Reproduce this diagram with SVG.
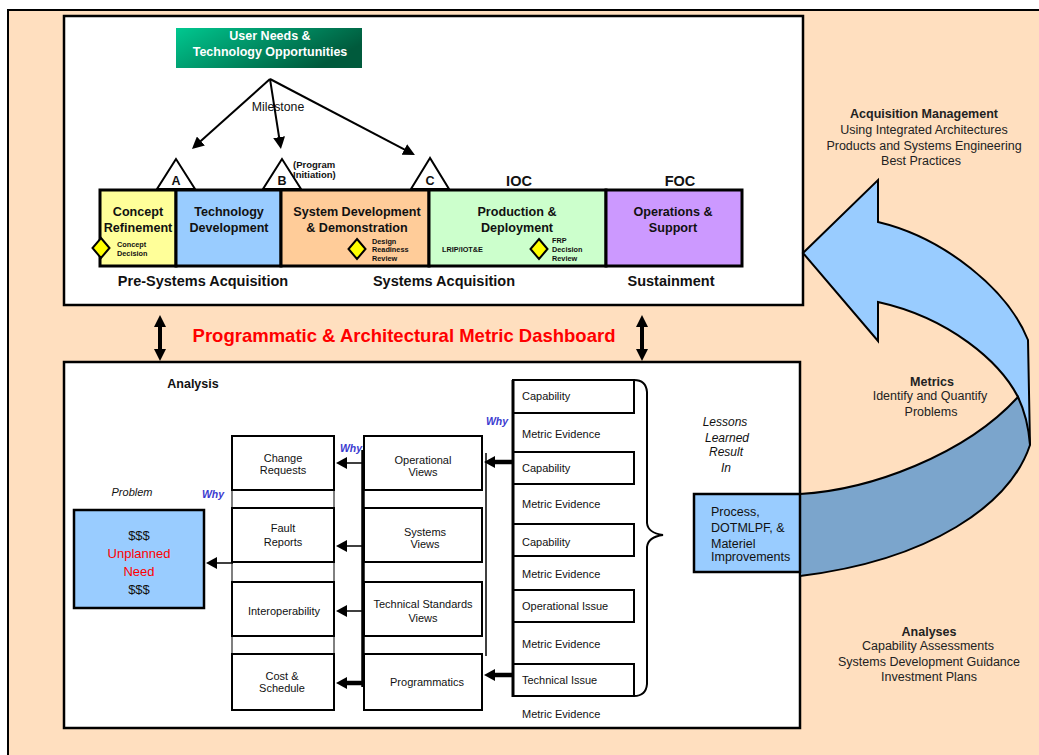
<svg xmlns="http://www.w3.org/2000/svg" width="1039" height="755" viewBox="0 0 1039 755">
<defs>
<linearGradient id="gUN" x1="0" y1="0" x2="1" y2="0.4">
<stop offset="0" stop-color="#00C890"/><stop offset="1" stop-color="#005A3C"/>
</linearGradient>
<marker id="ah" markerUnits="userSpaceOnUse" markerWidth="14" markerHeight="12" refX="2" refY="6" orient="auto"><path d="M0,0 L12,6 L0,12 Z" fill="#000"/></marker>
<marker id="ahs" markerUnits="userSpaceOnUse" markerWidth="12" markerHeight="12" refX="2" refY="6" orient="auto"><path d="M0,0 L11,6 L0,12 Z" fill="#000"/></marker>
<marker id="dbl" markerUnits="userSpaceOnUse" markerWidth="12" markerHeight="12" refX="2" refY="6" orient="auto-start-reverse"><path d="M0,0 L12,6 L0,12 Z" fill="#000"/></marker>
</defs>
<style>
text{font-family:"Liberation Sans",Arial,Helvetica,sans-serif;fill:#111}
.b{font-weight:bold}
.i{font-style:italic}
.c{text-anchor:middle}
.box{fill:#fff;stroke:#000;stroke-width:2}
.ph{stroke:#000;stroke-width:3}
.ph12{font-size:12.6px;font-weight:bold}
.acq{font-size:14.5px;font-weight:bold}
.sm{font-size:7.3px;font-weight:bold}
.dia{fill:#FFFF00;stroke:#000;stroke-width:2}
.tri{fill:#fff;stroke:#000;stroke-width:2}
.n11{font-size:11px}
.why{font-size:10.5px;font-weight:bold;font-style:italic;fill:#3B3BD0}
.rt{font-size:12.5px;fill:#222}
.ln{stroke:#000;fill:none}
</style>
<rect width="1039" height="755" fill="#fff"/>
<rect x="8" y="10" width="1060" height="780" fill="#FFDFBF" stroke="#000" stroke-width="2"/>

<g id="top-panel">
<rect x="64" y="16" width="739" height="289" fill="#fff" stroke="#000" stroke-width="2.5"/>
</g>
<g id="bottom-panel">
<rect x="64" y="362" width="736" height="366" fill="#fff" stroke="#000" stroke-width="2.5"/>
</g>

<g id="user-needs">
<rect x="176" y="28" width="186" height="40" fill="url(#gUN)"/>
<text x="270" y="40" class="c b" font-size="12.5" style="fill:#fff">User Needs &amp;</text>
<text x="270" y="55.5" class="c b" font-size="12.5" style="fill:#fff">Technology Opportunities</text>
</g>
<text x="278" y="111" class="c" font-size="12.3">Milestone</text>

<g id="milestone-A">
<path class="tri" d="M176,159 L157,189 L195,189 Z"/>
<text x="176" y="185" class="c b" font-size="12.5">A</text>
</g>
<g id="milestone-B">
<path class="tri" d="M282,159 L263,189 L301,189 Z"/>
<text x="282" y="185" class="c b" font-size="12.5">B</text>
<text x="293" y="168" class="b" font-size="9.5">(Program</text>
<text x="293" y="178" class="b" font-size="9.5">Initiation)</text>
</g>
<g id="milestone-C">
<path class="tri" d="M430,158 L411,189 L449,189 Z"/>
<text x="430" y="185" class="c b" font-size="12.5">C</text>
</g>

<g id="phase-concept">
<rect x="100" y="190" width="76" height="76" class="ph" fill="#FFFF99"/>
<text x="138" y="216" class="c ph12">Concept</text>
<text x="138" y="232" class="c ph12">Refinement</text>
<path class="dia" d="M101,238 L109.5,248 L101,258 L92.5,248 Z"/>
<text x="117" y="247" class="sm">Concept</text>
<text x="117" y="256" class="sm">Decision</text>
</g>
<g id="phase-tech">
<rect x="176" y="190" width="105" height="76" class="ph" fill="#99CCFF"/>
<text x="229" y="216" class="c ph12">Technology</text>
<text x="229" y="232" class="c ph12">Development</text>
</g>
<g id="phase-sdd">
<rect x="281" y="190" width="148" height="76" class="ph" fill="#FFCC99"/>
<text x="357" y="216" class="c ph12">System Development</text>
<text x="357" y="232" class="c ph12">&amp; Demonstration</text>
<path class="dia" d="M357,239 L365.5,249 L357,259 L348.5,249 Z"/>
<text x="372" y="244" class="sm">Design</text>
<text x="372" y="252" class="sm">Readiness</text>
<text x="372" y="261" class="sm">Review</text>
</g>
<g id="phase-pd">
<rect x="429" y="190" width="177" height="76" class="ph" fill="#CCFFCC"/>
<text x="517" y="216" class="c ph12">Production &amp;</text>
<text x="517" y="232" class="c ph12">Deployment</text>
<text x="442" y="252" class="sm">LRIP/IOT&amp;E</text>
<path class="dia" d="M539,239 L547.5,249 L539,259 L530.5,249 Z"/>
<text x="552" y="243" class="sm">FRP</text>
<text x="552" y="252" class="sm">Decision</text>
<text x="552" y="261" class="sm">Review</text>
</g>
<g id="phase-os">
<rect x="606" y="190" width="136" height="76" class="ph" fill="#CC99FF"/>
<text x="673" y="216" class="c ph12">Operations &amp;</text>
<text x="673" y="232" class="c ph12">Support</text>
</g>
<text x="519" y="186" class="c b" font-size="14.5">IOC</text>
<text x="680" y="186" class="c b" font-size="14.5">FOC</text>
<text x="203" y="286" class="c acq">Pre-Systems Acquisition</text>
<text x="444" y="286" class="c acq">Systems Acquisition</text>
<text x="671" y="286" class="c acq">Sustainment</text>

<text x="404" y="342" class="c b" font-size="18.5" style="fill:#FF0000">Programmatic &amp; Architectural Metric Dashboard</text>

<text x="193" y="388" class="c b" font-size="12.5">Analysis</text>

<g id="problem">
<text x="132" y="496" class="c i" font-size="11">Problem</text>
<rect x="74" y="510" width="130" height="98" fill="#99CCFF" stroke="#000" stroke-width="2.5"/>
<text x="139" y="540" class="c" font-size="13">$$$</text>
<text x="139" y="558" class="c" font-size="13" style="fill:#FF0000">Unplanned</text>
<text x="139" y="576" class="c" font-size="13" style="fill:#FF0000">Need</text>
<text x="139" y="594" class="c" font-size="13">$$$</text>
</g>

<g id="left-column">
<rect x="232" y="436" width="102" height="274" fill="none" stroke="#000" stroke-width="1"/>
<rect x="232" y="436" width="102" height="54" class="box"/>
<text x="283" y="462" class="c n11">Change</text>
<text x="283" y="474" class="c n11">Requests</text>
<rect x="232" y="508" width="102" height="54" class="box"/>
<text x="283" y="532" class="c n11">Fault</text>
<text x="283" y="546" class="c n11">Reports</text>
<rect x="232" y="582" width="102" height="54" class="box"/>
<text x="284" y="615" class="c n11">Interoperability</text>
<rect x="232" y="654" width="102" height="56" class="box"/>
<text x="282" y="680" class="c n11">Cost &amp;</text>
<text x="282" y="692" class="c n11">Schedule</text>
</g>

<g id="middle-column">
<rect x="364" y="436" width="118" height="54" class="box"/>
<text x="423" y="464" class="c n11">Operational</text>
<text x="423" y="476" class="c n11">Views</text>
<rect x="364" y="508" width="118" height="54" class="box"/>
<text x="425" y="536" class="c n11">Systems</text>
<text x="425" y="548" class="c n11">Views</text>
<rect x="364" y="582" width="118" height="54" class="box"/>
<text x="423" y="608" class="c n11">Technical Standards</text>
<text x="423" y="622" class="c n11">Views</text>
<rect x="364" y="654" width="118" height="56" class="box"/>
<text x="427" y="686" class="c n11">Programmatics</text>
</g>

<g id="evidence-column">
<rect x="513" y="380" width="121" height="33" class="box"/>
<text x="522" y="400" class="n11">Capability</text>
<text x="522" y="438" class="n11">Metric Evidence</text>
<rect x="513" y="452" width="121" height="32" class="box"/>
<text x="522" y="472" class="n11">Capability</text>
<text x="522" y="508" class="n11">Metric Evidence</text>
<rect x="513" y="524" width="121" height="32" class="box"/>
<text x="522" y="546" class="n11">Capability</text>
<text x="522" y="578" class="n11">Metric Evidence</text>
<rect x="513" y="590" width="121" height="32" class="box"/>
<text x="522" y="610" class="n11">Operational Issue</text>
<text x="522" y="648" class="n11">Metric Evidence</text>
<rect x="513" y="664" width="121" height="32" class="box"/>
<text x="522" y="684" class="n11">Technical Issue</text>
<text x="522" y="718" class="n11">Metric Evidence</text>
<path class="ln" stroke-width="2" d="M634,380 Q646,380 647,392 L647,523 Q648,533 663,535 Q648,537 647,547 L647,684 Q646,696 634,696"/>
</g>

<g id="lessons">
<text x="725" y="426" class="c i" font-size="12">Lessons</text>
<text x="727" y="442" class="c i" font-size="12">Learned</text>
<text x="726" y="456" class="c i" font-size="12">Result</text>
<text x="726" y="472" class="c i" font-size="12">In</text>
</g>

<g id="cycle-arrow">
<path d="M803,253 L878,180 L878,222 C945,238 1008,290 1028,340 L1030,445 L1018,397 C1000,362 950,318 878,302 L878,341 Z" fill="#99CCFF" stroke="#000" stroke-width="2" stroke-linejoin="miter"/>
<path d="M800,494 C870,490 965,455 1018,397 Q1028,418 1030,445 C1010,505 930,560 800,576 Z" fill="#7BA5CC" stroke="#000" stroke-width="2"/>
</g>

<g id="process">
<rect x="694" y="494" width="106" height="78" fill="#99CCFF" stroke="#000" stroke-width="2.5"/>
<text x="711" y="516" font-size="12.5">Process,</text>
<text x="711" y="532" font-size="12.5">DOTMLPF, &amp;</text>
<text x="711" y="548" font-size="12.5">Materiel</text>
<text x="711" y="561" font-size="12.5">Improvements</text>
</g>

<g id="side-notes">
<text x="924" y="118" class="c b rt">Acquisition Management</text>
<text x="924" y="134" class="c rt">Using Integrated Architectures</text>
<text x="924" y="150" class="c rt">Products and Systems Engineering</text>
<text x="921" y="165" class="c rt">Best Practices</text>
<text x="932" y="386" class="c b rt">Metrics</text>
<text x="930" y="400" class="c rt">Identify and Quantify</text>
<text x="931" y="416" class="c rt">Problems</text>
<text x="929" y="636" class="c b rt">Analyses</text>
<text x="928" y="650" class="c rt">Capability Assessments</text>
<text x="929" y="666" class="c rt">Systems Development Guidance</text>
<text x="929" y="681" class="c rt">Investment Plans</text>
</g>

<g id="why-labels">
<text x="497" y="425" class="c why">Why</text>
<text x="351" y="452" class="c why">Why</text>
<text x="213" y="498" class="c why">Why</text>
</g>

<g id="connectors">
<line x1="270" y1="79" x2="199.4" y2="142.3" class="ln" stroke-width="2" marker-end="url(#ah)"/>
<line x1="270" y1="79" x2="279.4" y2="139.1" class="ln" stroke-width="2" marker-end="url(#ah)"/>
<line x1="270" y1="79" x2="406.1" y2="150.4" class="ln" stroke-width="2" marker-end="url(#ah)"/>
<line x1="160" y1="325" x2="160" y2="351" class="ln" stroke-width="4" marker-start="url(#dbl)" marker-end="url(#dbl)"/>
<line x1="642" y1="325" x2="642" y2="351" class="ln" stroke-width="4" marker-start="url(#dbl)" marker-end="url(#dbl)"/>
<line x1="363" y1="450" x2="363" y2="687" class="ln" stroke-width="3.5"/>
<line x1="363" y1="463" x2="345" y2="463" class="ln" stroke-width="1.5" marker-end="url(#ahs)"/>
<line x1="363" y1="546" x2="345" y2="546" class="ln" stroke-width="1.5" marker-end="url(#ahs)"/>
<line x1="363" y1="611" x2="345" y2="611" class="ln" stroke-width="1.5" marker-end="url(#ahs)"/>
<line x1="363" y1="683" x2="345" y2="683" class="ln" stroke-width="4.5" marker-end="url(#ahs)"/>
<line x1="513" y1="380" x2="513" y2="697" class="ln" stroke-width="3"/>
<line x1="513" y1="462" x2="493" y2="462" class="ln" stroke-width="4.5" marker-end="url(#ahs)"/>
<line x1="513" y1="675" x2="493" y2="675" class="ln" stroke-width="4.5" marker-end="url(#ahs)"/>
<line x1="486" y1="453" x2="486" y2="656" class="ln" stroke-width="1.5"/>
<line x1="233" y1="563" x2="215" y2="563" class="ln" stroke-width="1.5" marker-end="url(#ahs)"/>
</g>
</svg>
